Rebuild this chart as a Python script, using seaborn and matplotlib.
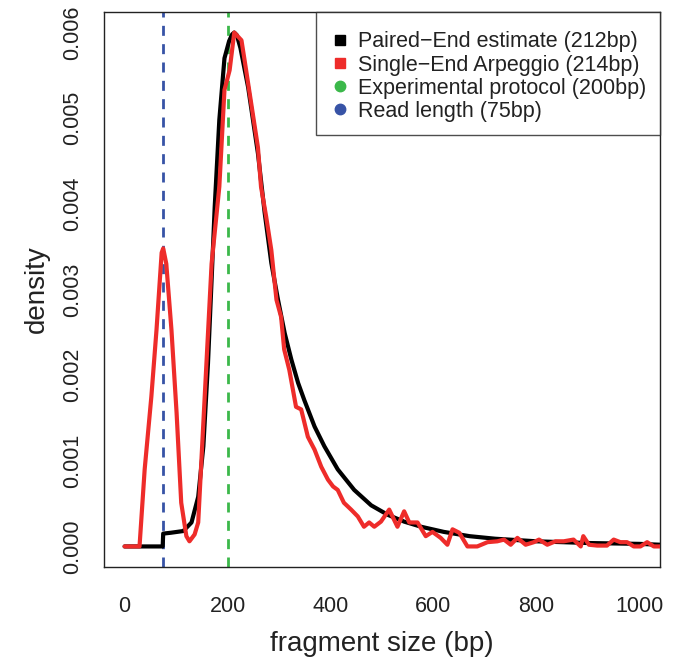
import numpy as np
import pandas as pd
import matplotlib
matplotlib.use("Agg")
import matplotlib.pyplot as plt
from matplotlib.lines import Line2D
import seaborn as sns

# ---- data ----
pe_x = [0, 74, 75, 90, 114, 130, 143, 153, 162, 169, 175, 184, 194, 203, 209, 213, 218,
        225, 240, 259, 272, 285, 298, 311, 324, 337, 349, 369, 388, 414, 446, 479, 511,
        543, 576, 620, 670, 720, 800, 900, 1000, 1040]
pe_y = [0, 0, 0.00015, 0.00016, 0.00018, 0.00028, 0.00058, 0.00117, 0.00214, 0.00311,
        0.00396, 0.00498, 0.00570, 0.00590, 0.00598, 0.00600, 0.00597, 0.00582, 0.00536,
        0.00459, 0.00390, 0.00331, 0.00288, 0.00249, 0.00218, 0.00191, 0.00171, 0.00140,
        0.00117, 0.00090, 0.00066, 0.00048, 0.00037, 0.00029, 0.00023, 0.00017, 0.00012,
        0.00009, 0.00006, 0.00004, 0.00003, 0.00002]

se_x = [0, 29, 39, 52, 62, 72, 75, 81, 91, 101, 110, 120, 126, 136, 143, 149, 159, 169,
        184, 194, 204, 213, 227, 233, 246, 259, 265, 275, 285, 295, 304, 310, 320, 333,
        343, 356, 369, 382, 395, 405, 414, 426, 440, 453, 465, 475, 485, 498, 514, 530,
        543, 553, 569, 585, 598, 614, 627, 637, 650, 666, 685, 705, 724, 737, 750, 763,
        779, 795, 805, 821, 837, 853, 872, 886, 891, 902, 918, 937, 950, 963, 976, 989,
        1002, 1015, 1028, 1040]
se_y = [0, 0, 0.00090, 0.00175, 0.00253, 0.00343, 0.00348, 0.00330, 0.00253, 0.00156,
        0.00051, 0.00012, 0.00006, 0.00014, 0.00028, 0.00098, 0.00214, 0.00330, 0.00420,
        0.00533, 0.00556, 0.00600, 0.00591, 0.00568, 0.00517, 0.00466, 0.00420, 0.00385,
        0.00346, 0.00288, 0.00268, 0.00230, 0.00206, 0.00163, 0.00160, 0.00128, 0.00113,
        0.00093, 0.00078, 0.00070, 0.00066, 0.00051, 0.00043, 0.00035, 0.00023, 0.00028,
        0.00023, 0.00029, 0.00043, 0.00023, 0.00041, 0.00028, 0.00028, 0.00012, 0.00017,
        0.00010, 0.00002, 0.00020, 0.00016, 0.00000, 0.00000, 0.00005, 0.00006, 0.00008,
        0.00002, 0.00010, 0.00002, 0.00005, 0.00008, 0.00002, 0.00006, 0.00006, 0.00008,
        0.00000, 0.00012, 0.00002, 0.00001, 0.00001, 0.00008, 0.00005, 0.00005, 0.00000,
        0.00000, 0.00005, 0.00000, 0.00000]

read_length = 75
protocol_size = 200
legend_labels = ["Paired\u2212End estimate (212bp)", "Single\u2212End Arpeggio (214bp)",
                 "Experimental protocol (200bp)", "Read length (75bp)"]
x_ticks = [0, 200, 400, 600, 800, 1000]
y_ticks = [0.000, 0.001, 0.002, 0.003, 0.004, 0.005, 0.006]

c_black = "#000000"
c_red = "#EE2C2A"
c_green = "#3BB84A"
c_blue = "#3753A6"
c_text = "#222222"

sns.set_style("white")
plt.rcParams["font.family"] = ["Liberation Sans", "DejaVu Sans"]

fig = plt.figure(figsize=(6.74, 6.59), dpi=100)
ax = fig.add_axes([104 / 674, 1 - 567 / 659, (660 - 104) / 674, (567 - 12) / 659])

df_pe = pd.DataFrame({"x": pe_x, "y": pe_y})
df_se = pd.DataFrame({"x": se_x, "y": se_y})

ax.axvline(read_length, color=c_blue, lw=2.0, dashes=(3.6, 3.0), zorder=1)
ax.axvline(protocol_size, color=c_green, lw=2.0, dashes=(3.6, 3.0), zorder=1)
sns.lineplot(data=df_pe, x="x", y="y", ax=ax, color=c_black, lw=3.0, sort=False,
             estimator=None, zorder=2)
sns.lineplot(data=df_se, x="x", y="y", ax=ax, color=c_red, lw=3.0, sort=False,
             estimator=None, zorder=3)

ax.set_xlim(-40, 1040)
ax.set_ylim(-0.00024, 0.00624)
ax.set_xticks(x_ticks)
ax.set_xticklabels([str(v) for v in x_ticks])
ax.set_yticks(y_ticks)
ax.set_yticklabels([f"{v:.3f}" for v in y_ticks], rotation=90, va="center")
ax.tick_params(axis="both", direction="out", length=7, width=1.0, color="#333333",
               labelsize=15.5, labelcolor=c_text)
ax.tick_params(axis="x", pad=14)
ax.tick_params(axis="y", pad=8)
for s in ax.spines.values():
    s.set_color(c_text)
    s.set_linewidth(1.0)
ax.set_xlabel("fragment size (bp)", fontsize=20, color=c_text, labelpad=10)
ax.set_ylabel("density", fontsize=20, color=c_text, labelpad=9)

handles = [
    Line2D([], [], ls="none", marker="s", ms=7.5, color=c_black),
    Line2D([], [], ls="none", marker="s", ms=7.5, color=c_red),
    Line2D([], [], ls="none", marker="o", ms=7.5, color=c_green),
    Line2D([], [], ls="none", marker="o", ms=7.5, color=c_blue),
]
leg = ax.legend(handles, legend_labels, loc="upper right", borderaxespad=0,
                fontsize=15.5, frameon=True, fancybox=False, handlelength=1.0,
                handletextpad=0.35, labelspacing=0.1, borderpad=0.62,
                labelcolor=c_text, title=" ", title_fontsize=2.5)
leg.get_frame().set_edgecolor(c_text)
leg.get_frame().set_linewidth(1.0)

fig.savefig("out.png", dpi=100)
